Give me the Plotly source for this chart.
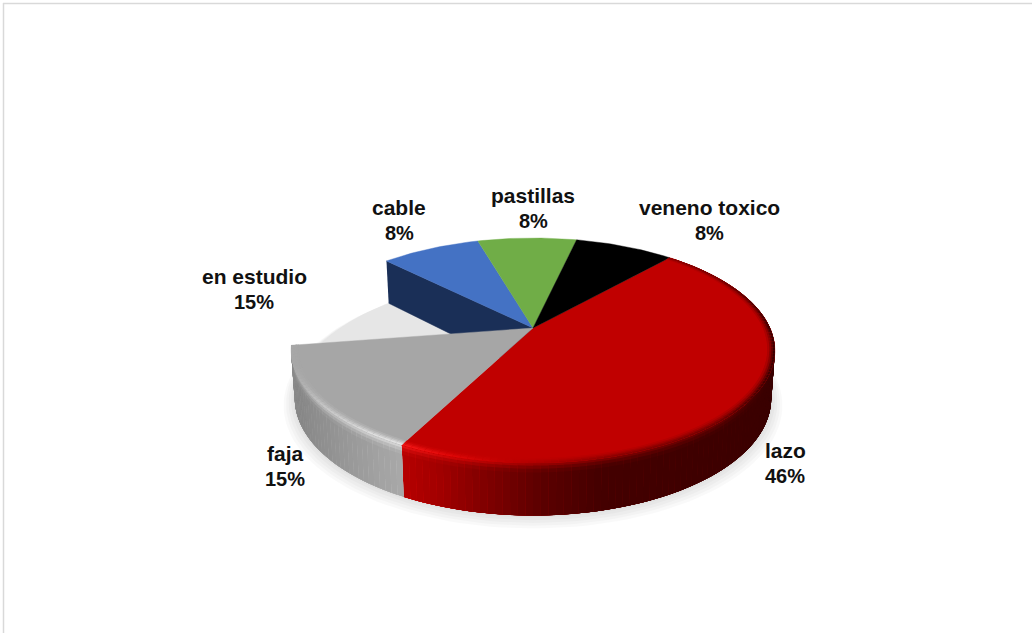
import numpy as np
import plotly.graph_objects as go

# Slices, clockwise from the start angle
names = ["lazo", "faja", "en estudio", "cable", "pastillas", "veneno toxico"]
values = [46, 15, 15, 8, 8, 8]
top_colors = ["#c00000", "#a6a6a6", "#e6e6e6", "#4472c4", "#70ad47", "#000000"]

# Label anchors, in the axis units of the page
label_x = [785, 285, 254, 399, 533, 709]
label_y = [463.5, 466, 289, 220.5, 208, 220.5]

W, H = 1032, 633
START = 41.5          # degrees clockwise from the back of the pie
CX, CY = 533.0, 328.0 # apex of the top face
A, B, K = 237.0, 108.0, 0.2  # perspective disc: half width, half height, foreshortening
LINE_GAP = 25.5


def hex_rgb(c):
    c = c.lstrip("#")
    return np.array([int(c[i:i + 2], 16) for i in (0, 2, 4)], float)


def rgb(c):
    return "rgb(%d,%d,%d)" % tuple(np.round(c))


def ramp(x, stops):
    xs = [s[0] for s in stops]
    cols = np.array([hex_rgb(s[1]) for s in stops])
    return np.array([np.interp(x, xs, cols[:, i]) for i in range(3)])


def project(theta, r=1.0, level=0.0):
    """Map polar disc coordinates to the page; level 0 is the top face, 1 the floor."""
    t = np.radians(theta)
    u, v = r * np.sin(t), -r * np.cos(t)
    w = 1 - K * v
    x = A * u / w
    y = B * v / w
    drop = (46.5 + 6.0 * v) * level
    return CX + x * (1 - 0.015 * level), CY + y + drop


def poly(xs, ys, color, width=0.0):
    fig.add_trace(go.Scatter(
        x=list(xs), y=list(ys), mode="lines", fill="toself", fillcolor=color,
        line=dict(color=color, width=width), hoverinfo="skip", showlegend=False))


def sector(a0, a1, level=0.0):
    th = np.linspace(a0, a1, max(int(abs(a1 - a0)), 2) + 1)
    x, y = project(th, 1.0, level)
    ax, ay = project(0.0, 0.0, level)
    return np.r_[ax, x, ax], np.r_[ay, y, ay]


def columns(a0, a1, step):
    """Angular strips that overlap the next one, painted in order so no seams show."""
    th = np.arange(a0, a1 + step, step)
    th = np.minimum(th, a1)
    for t0, t1 in zip(th[:-1], th[1:]):
        yield t0, min(t1 + step, a1), (t0 + t1) / 2


SIDE = {
    "lazo": [(405, "#b40000"), (440, "#a00000"), (490, "#7c0000"), (540, "#5c0000"),
             (600, "#440000"), (770, "#3a0000")],
    "faja": [(293, "#858585"), (340, "#969696"), (404, "#aaaaaa")],
}
RIM = {
    "lazo": [(405, "#f41818"), (450, "#e00808"), (520, "#b80000"), (610, "#8c0000"),
             (720, "#700000"), (775, "#380000")],
    "faja": [(293, "#a8a8a8"), (320, "#c4c4c4"), (370, "#dedede"), (404, "#e6e6e6")],
}

fig = go.Figure()

# Slice boundaries from the values
total = sum(values)
edges = START + 360 * np.cumsum([0] + values) / total
span = dict(zip(names, zip(edges[:-1], edges[1:])))
top = dict(zip(names, top_colors))

# Soft floor shadow under the whole disc
full = np.linspace(0, 360, 181)
for e, off in [(0.045, 5), (0.035, 4), (0.025, 3), (0.015, 2), (0.006, 1)]:
    sx, sy = project(full, 1 + e, 1.0)
    poly(sx, sy + off, "rgba(0,0,0,0.022)")

# The empty slice only shows on the floor
a0, a1 = span["en estudio"]
x, y = sector(a0, a1, 1.0)
poly(x, y, top["en estudio"], width=0.5)

# Cut face of the slice next to the empty one
a0, _ = span["cable"]
rx0, ry0 = project(a0)
rx1, ry1 = project(a0, 1.0, 1.0)
ax0, ay0 = project(0.0, 0.0)
ax1, ay1 = project(0.0, 0.0, 1.0)
poly([rx0, ax0, ax1, rx1], [ry0, ay0, ay1, ry1], "#1a2f57", width=0.5)

# Outer walls with shading along the rim
rows = [(0.0, 0.7), (0.05, 0.35), (0.11, 0.1), (0.18, 0.0)]
STEP = 1.5
for name in ["lazo", "faja"]:
    a0, a1 = span[name]
    for t0, t1, mid in columns(max(a0, 78), a1, STEP):
        mx, _ = project(mid)
        side = ramp(mx, SIDE[name])
        rim = ramp(mx, RIM[name])
        for l0, mix in rows:
            c = side * (1 - mix) + rim * mix
            x0, y0 = project(t0, 1.0, l0)
            x1, y1 = project(t1, 1.0, l0)
            x2, y2 = project(t1, 1.0, 1.0)
            x3, y3 = project(t0, 1.0, 1.0)
            poly([x0, x1, x2, x3], [y0, y1, y2, y3], rgb(c))

# Top faces
for name in names:
    if name == "en estudio":
        continue
    a0, a1 = span[name]
    x, y = sector(a0, a1)
    poly(x, y, top[name], width=0.4)

# Bevel highlight just inside the rim
rings = [(0.970, 0.15), (0.978, 0.4), (0.986, 0.7), (0.993, 1.0)]
for name in ["lazo", "faja"]:
    a0, a1 = span[name]
    base = hex_rgb(top[name])
    for t0, t1, mid in columns(a0, a1, STEP):
        mx, _ = project(mid)
        rim = ramp(mx, RIM[name])
        for r0, mix in rings:
            c = base * (1 - mix) + rim * mix
            x0, y0 = project(t0, r0)
            x1, y1 = project(t1, r0)
            x2, y2 = project(t1, 1.0)
            x3, y3 = project(t0, 1.0)
            poly([x0, x1, x2, x3], [y0, y1, y2, y3], rgb(c))

# Two-line labels: name and share
for n, v, lx, ly in zip(names, values, label_x, label_y):
    for text, dy, size in ((n, -LINE_GAP / 2, 21), (f"{v}%", LINE_GAP / 2, 20)):
        fig.add_annotation(x=lx, y=ly + dy, text=f"<b>{text}</b>", showarrow=False,
                           xanchor="center", yanchor="middle", align="center",
                           font=dict(family="Liberation Sans", size=size, color="#111111"))

fig.update_layout(
    width=W, height=H, margin=dict(l=0, r=0, t=0, b=0),
    paper_bgcolor="white", plot_bgcolor="white", showlegend=False,
    xaxis=dict(range=[0, W], visible=False, fixedrange=True),
    yaxis=dict(range=[H, 0], visible=False, fixedrange=True),
    shapes=[
        dict(type="line", x0=3, x1=W, y0=3.5, y1=3.5, line=dict(color="#d9d9d9", width=1.5)),
        dict(type="line", x0=3.5, x1=3.5, y0=3, y1=H, line=dict(color="#d9d9d9", width=1.5)),
    ],
)
fig.write_html("out.html", config=dict(displayModeBar=False))
